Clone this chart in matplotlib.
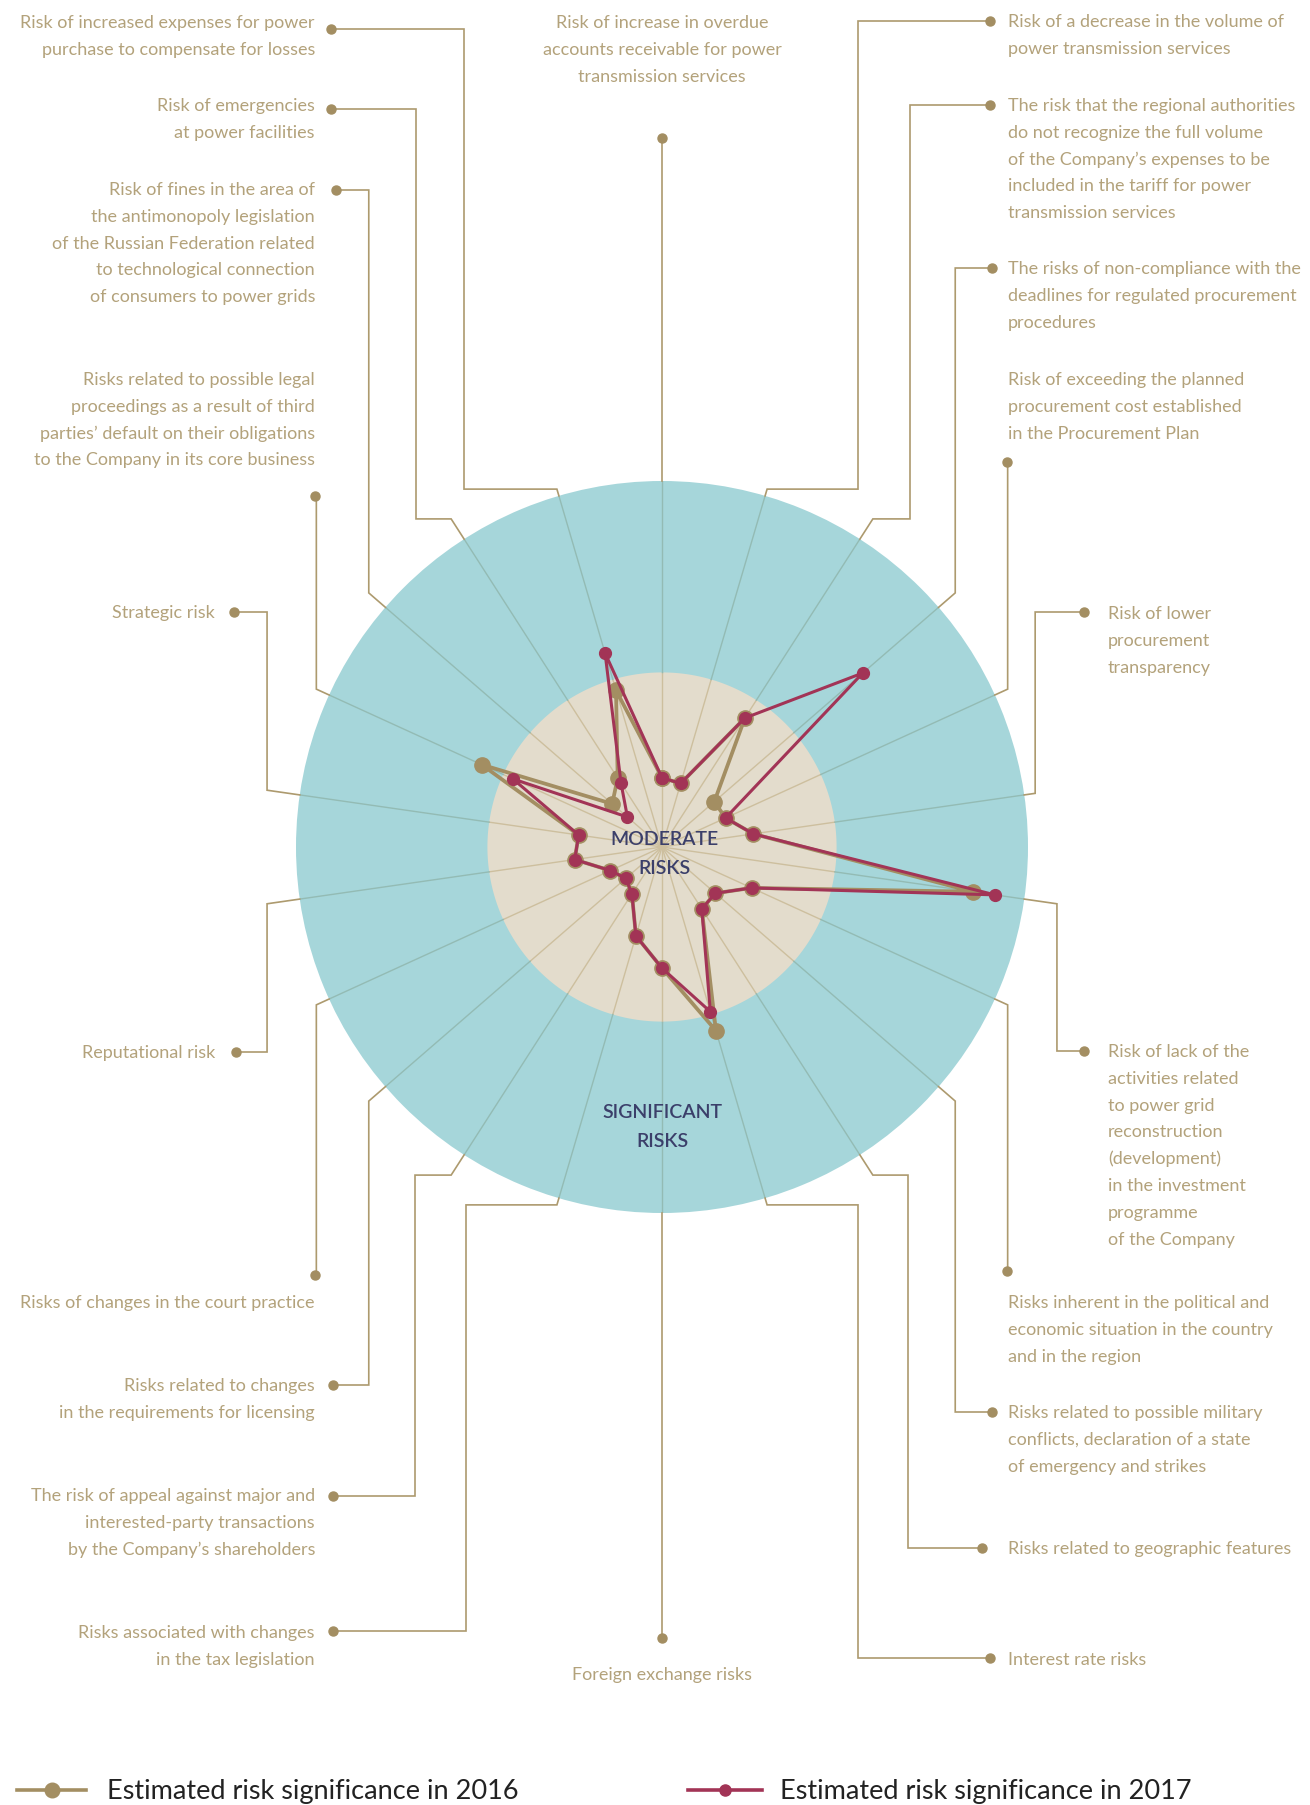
import numpy as np
import matplotlib
matplotlib.use('Agg')
import matplotlib.pyplot as plt

# ---------------- data ----------------
risks = [
    "Risk of increase in overdue\naccounts receivable for power\ntransmission services",
    "Risk of a decrease in the volume of\npower transmission services",
    "The risk that the regional authorities\ndo not recognize the full volume\nof the Company\u2019s expenses to be\nincluded in the tariff for power\ntransmission services",
    "The risks of non-compliance with the\ndeadlines for regulated procurement\nprocedures",
    "Risk of exceeding the planned\nprocurement cost established\nin the Procurement Plan",
    "Risk of lower\nprocurement\ntransparency",
    "Risk of lack of the\nactivities related\nto power grid\nreconstruction\n(development)\nin the investment\nprogramme\nof the Company",
    "Risks inherent in the political and\neconomic situation in the country\nand in the region",
    "Risks related to possible military\nconflicts, declaration of a state\nof emergency and strikes",
    "Risks related to geographic features",
    "Interest rate risks",
    "Foreign exchange risks",
    "Risks associated with changes\nin the tax legislation",
    "The risk of appeal against major and\ninterested-party transactions\nby the Company\u2019s shareholders",
    "Risks related to changes\nin the requirements for licensing",
    "Risks of changes in the court practice",
    "Reputational risk",
    "Strategic risk",
    "Risks related to possible legal\nproceedings as a result of third\nparties\u2019 default on their obligations\nto the Company in its core business",
    "Risk of fines in the area of\nthe antimonopoly legislation\nof the Russian Federation related\nto technological connection\nof consumers to power grids",
    "Risk of emergencies\nat power facilities",
    "Risk of increased expenses for power\npurchase to compensate for losses",
]
values_2016 = [1.89, 1.81, 4.19, 1.89, 1.91, 2.52, 8.58, 2.69, 1.93, 2.01, 5.23,
               3.31, 2.53, 1.52, 1.31, 1.55, 2.41, 2.30, 5.42, 1.80, 2.24, 4.46]
values_2017 = [1.89, 1.81, 4.19, 7.26, 1.91, 2.52, 9.19, 2.69, 1.93, 2.01, 4.69,
               3.31, 2.53, 1.52, 1.31, 1.55, 2.41, 2.30, 4.48, 1.25, 2.07, 5.52]
series_names = ["Estimated risk significance in 2016", "Estimated risk significance in 2017"]
zone_names = ["MODERATE\nRISKS", "SIGNIFICANT\nRISKS"]
moderate_limit = 4.77
scale_max = 10.0

# ---------------- style ----------------
TEAL = "#A6D6DA"
BEIGE = "#E3DCCC"
SPOKE_IN = "#CDBF9E"
SPOKE_OUT = "#93BBB4"
GOLD = "#A38E62"
RED = "#A23456"
LINK = "#AD9A6E"
LABEL = "#B3A27B"
NAVY = "#3B3F6A"
FONT = ["Lato", "DejaVu Sans"]

W, H = 1310, 1805
cx, cy, R = 662, 847, 366
PITCH = 26.8
FS = 13.0

# layout of labels: (x, first line centre y, ha)
label_pos = [
    (662, 22, "center"), (1008, 21, "left"), (1008, 105, "left"), (1008, 268, "left"),
    (1008, 379, "left"), (1108, 613, "left"), (1108, 1051, "left"), (1008, 1302, "left"),
    (1008, 1412, "left"), (1008, 1548, "left"), (1008, 1659, "left"), (662, 1674, "center"),
    (315, 1632, "right"), (315, 1495, "right"), (315, 1385, "right"), (315, 1302, "right"),
    (215, 1052, "right"), (215, 612, "right"), (315, 379, "right"), (315, 189, "right"),
    (315, 105, "right"), (315, 22, "right"),
]
# connector dots
dot_pos = [
    (662, 138), (990, 21), (990, 105), (992, 268), (1007, 462), (1084, 612),
    (1084, 1051), (1007, 1271), (992, 1412), (982, 1548), (990, 1658), (662, 1638),
    (333, 1631), (333, 1496), (333, 1385), (315, 1275), (236, 1052), (234, 612),
    (315, 496), (336, 190), (331, 109), (331, 29),
]
# elbow radius (px) along the spoke, and x of the vertical run (None -> elbow x)
elbow_r = [None, 373, 390, 388, 380, 377, 399, 380, 388, 390, 373, None,
           373, 390, 388, 380, 399, 399, 380, 388, 390, 373]
vert_x = [None, 858, 910, None, None, None, None, None, None, 908, 858, None,
          466, 415, None, None, None, None, None, None, 416, 464]

fig = plt.figure(figsize=(W / 100, H / 100), dpi=100)

# ---------------- radar ----------------
pax = fig.add_axes([(cx - R) / W, (H - cy - R) / H, 2 * R / W, 2 * R / H], projection="polar")
pax.set_theta_zero_location("N")
pax.set_theta_direction(-1)
pax.set_ylim(0, scale_max)
pax.set_facecolor(TEAL)
pax.grid(False)
pax.set_xticks([])
pax.set_yticks([])
pax.spines["polar"].set_visible(False)

n = len(risks)
theta = np.arange(n) * 2 * np.pi / n
tt = np.linspace(0, 2 * np.pi, 400)
pax.fill(tt, np.full_like(tt, moderate_limit), color=BEIGE, lw=0, zorder=1)
for t in theta:
    pax.plot([t, t], [0, moderate_limit], color=SPOKE_IN, lw=1.0, zorder=2)
    pax.plot([t, t], [moderate_limit, scale_max], color=SPOKE_OUT, lw=1.0, zorder=2)

th_c = np.append(theta, theta[0])
v16 = np.append(values_2016, values_2016[0])
v17 = np.append(values_2017, values_2017[0])
pax.plot(th_c, v16, color=GOLD, lw=2.7, marker="o", ms=11, mfc=GOLD, mec=GOLD,
         zorder=3, clip_on=False)
pax.plot(th_c, v17, color=RED, lw=2.2, marker="o", ms=8.5, mfc=RED, mec=RED,
         zorder=4, clip_on=False)

# ---------------- overlay (pixel coordinates) ----------------
ov = fig.add_axes([0, 0, 1, 1])
ov.set_xlim(0, W)
ov.set_ylim(H, 0)
ov.axis("off")
ov.set_zorder(3)

for i in range(n):
    ang = np.pi / 2 - theta[i]
    ux, uy = np.cos(ang), -np.sin(ang)
    sx, sy = cx + R * ux, cy + R * uy
    dx, dy = dot_pos[i]
    if elbow_r[i] is None:
        xs, ys = [sx, dx], [sy, dy]
    else:
        ex, ey = cx + elbow_r[i] * ux, cy + elbow_r[i] * uy
        vx = ex if vert_x[i] is None else vert_x[i]
        xs = [sx, ex, vx, vx, dx]
        ys = [sy, ey, ey, dy, dy]
    ov.plot(xs, ys, color=LINK, lw=1.2, solid_joinstyle="miter", zorder=1)
    ov.plot([dx], [dy], "o", color=GOLD, ms=6.5, zorder=2)

    lx, ly, ha = label_pos[i]
    for k, line in enumerate(risks[i].split("\n")):
        ov.text(lx, ly + k * PITCH + 6, line, ha=ha, va="baseline", fontsize=FS,
                color=LABEL, family=FONT)

# zone names
for name, (zx, zy) in zip(zone_names, [(664, 838), (662, 1111)]):
    for k, line in enumerate(name.split("\n")):
        ov.text(zx, zy + k * 29 + 7, line, ha="center", va="baseline", fontsize=14,
                color=NAVY, family=FONT, fontweight="semibold")

# legend
leg = [(17, 86, 107, GOLD, 10.5), (688, 762, 780, RED, 8)]
for (x0, x1, xt, col, ms), name in zip(leg, series_names):
    ly = 1790
    ov.plot([x0, x1], [ly, ly], color=col, lw=2.6, zorder=2)
    ov.plot([(x0 + x1) / 2], [ly], "o", color=col, ms=ms, zorder=3)
    ov.text(xt, ly + 1, name, ha="left", va="center", fontsize=19.5, color="#222222",
            family=FONT)

fig.savefig("out.png", dpi=100)
